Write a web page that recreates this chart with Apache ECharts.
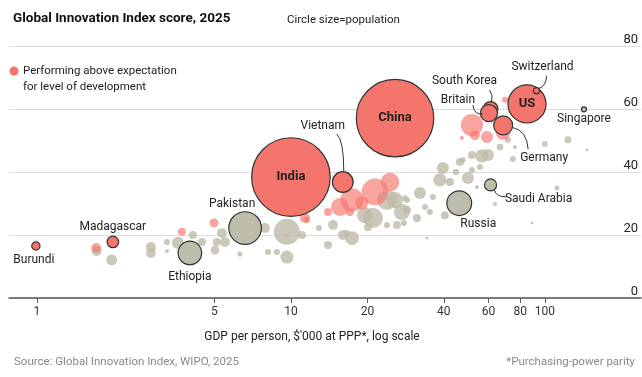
<!DOCTYPE html>
<html><head><meta charset="utf-8">
<script src="https://cdn.jsdelivr.net/npm/echarts@6/dist/echarts.min.js"></script>
<style>html,body{margin:0;padding:0;background:#fff}#c{width:642px;height:377px}</style>
</head><body><div id="c"></div>
<script>
// ---- Data: [GDP per person $'000 PPP, GII score, population (m)] ----
const labeledNames = ['Burundi','Madagascar','India','Vietnam','China','US','Switzerland','South Korea','Britain','Germany'];
const labeledRed = [
  [0.99,16.5,16],[1.99,17.8,31],[10.0,38.4,1450],[16.0,36.8,101],[25.7,57.1,1410],
  [85.0,61.6,340],[92.7,65.8,9],[61.1,60.0,51],[60.2,58.7,69],[68.5,54.8,84]
];
const labeledGrayNames = ['Ethiopia','Pakistan','Russia','Saudi Arabia','Singapore'];
const labeledGray = [[4.0,14.3,130],[6.6,22.2,250],[46.0,30.1,144],[61.1,35.9,34],[142.5,59.9,6]];
const aboveExpectation = [
  [1.71,15.9,23],[3.72,21.0,15],[4.98,23.8,19],[11.35,25.4,23],[13.99,27.3,15],
  [15.6,28.9,76],[17.39,31.1,129],[19.03,30.2,40],[21.41,33.7,166],[24.53,36.8,81],
  [17.07,27.3,15],[11.56,24.8,8.5],[51.61,54.9,115],[59.14,51.1,34],[53.0,51.7,23],
  [68.36,52.4,46],[47.13,50.8,4],[69.66,62.9,8.5]
];
const others = [
  [1.72,14.9,23],[1.97,12.1,28],[2.81,16.2,23],[2.81,14.3,23],[3.25,17.8,8.5],[3.25,14.9,4],
  [3.59,17.5,34],[4.11,20.0,15],[4.46,17.8,15],[5.02,15.2,19],[5.11,17.8,15],[5.35,20.6,23],
  [5.50,17.8,23],[6.30,14.0,6],[7.90,22.2,23],[9.64,21.0,159],[11.05,20.0,15],[9.64,20.0,4],
  [12.89,22.2,8.5],[13.99,16.8,15],[8.12,14.6,8.5],[8.81,14.6,8.5],[9.64,13.0,40],[14.64,23.2,23],
  [16.02,20.0,23],[17.39,19.0,46],[16.61,20.6,8.5],[19.56,26.3,60],[21.03,25.4,94],[23.88,31.1,94],
  [25.67,31.1,60],[27.35,27.3,60],[28.11,31.7,8.5],[23.88,23.2,8.5],[26.14,23.2,15],[27.86,23.8,8.5],
  [20.11,22.5,15],[31.33,25.4,15],[28.64,27.9,15],[28.64,31.1,8.5],[32.21,33.3,34],[33.71,28.9,8.5],
  [36.24,32.1,8.5],[35.26,27.3,8.5],[40.37,26.3,15],[39.66,41.3,34],[38.61,37.5,42],[42.27,36.8,15],
  [44.63,40.0,10],[47.55,43.8,7],[49.77,38.1,34],[51.61,45.4,15],[51.61,40.6,8.5],[55.47,41.6,8.5],
  [56.49,45.1,42],[54.0,35.2,4],[46.28,43.2,15],[63.57,29.8,4],[66.53,47.9,10],[71.47,50.2,8.5],
  [76.21,47.9,4],[74.82,44.1,8.5],[100,48.9,8.5],[123.2,50.2,11.5],[146.3,47.0,2],[111.5,34.9,6],
  [88.91,23.8,2],[34.30,19.0,2],[59.7,45.4,34]
];
const xTickValues = [1,5,10,20,40,60,80,100];
const xRange = [0.776, 239];
const yTicks = [0,20,40,60,80];

// ---- label layout (offsets of label centre from circle centre, px) ----
const labelOffsets = {
  'Burundi':[-2,14],'Madagascar':[0,-15],'India':[0,0],'Vietnam':[-20,-56],'China':[0,0],'US':[0,0],
  'Switzerland':[6,-24],'South Korea':[-26,-28],'Britain':[-31,-13],'Germany':[41,33],
  'Ethiopia':[0,24],'Pakistan':[-13,-24],'Russia':[19,21],'Saudi Arabia':[48,14],'Singapore':[0,10]
};
// leader lines: [start, control, end] offsets from circle centre, px
const leaders = {
  'Vietnam':[[-6,-48],[1,-42],[1,-11]],
  'Switzerland':[[10,-15],[10,-5],[2,-2]],
  'South Korea':[[-1,-19],[3,-14],[1,-7]],
  'Britain':[[-16,-8],[-15,2],[-6,1]],
  'Germany':[[9,2],[24,5],[25,24]],
  'Saudi Arabia':[[4,5],[5,12],[16,12]]
};
const boldInside = {'India':1,'China':1,'US':1};

const RED = '#F4756C';
const FONT = 'Roboto, "Noto Sans", sans-serif';
const size = v => 2.063 * Math.sqrt(v[2]);
const tx = arr => arr.map(d => [Math.log10(d[0]), d[1], d[2]]);

function labeledData(names, arr){
  return tx(arr).map((v,i) => ({
    name: names[i], value: v,
    label: boldInside[names[i]] ? {fontWeight:'bold', fontSize:13} : {}
  }));
}
function layoutFor(names){
  return p => { const o = labelOffsets[names[p.dataIndex]] || [0,0]; return {dx:o[0], dy:o[1]}; };
}

const chart = echarts.init(document.getElementById('c'), null, {renderer:'canvas'});
chart.setOption({
  animation:false,
  textStyle:{fontFamily:FONT},
  title:[
    {text:'Global Innovation Index score, 2025', left:8, top:7, textStyle:{fontSize:13.5, fontWeight:'bold', color:'#111', fontFamily:FONT}},
    {text:'Circle size=population', left:282, top:9, textStyle:{fontSize:11.5, fontWeight:'normal', color:'#222', fontFamily:FONT}},
    {text:'Source: Global Innovation Index, WIPO, 2025', left:9, top:351, textStyle:{fontSize:11.5, fontWeight:'normal', color:'#888', fontFamily:FONT}},
    {text:'*Purchasing-power parity', right:2, top:351, textStyle:{fontSize:11.5, fontWeight:'normal', color:'#888', fontFamily:FONT}}
  ],
  grid:{left:9, right:1, top:46, bottom:79},
  xAxis:{
    type:'value', min:Math.log10(xRange[0]), max:Math.log10(xRange[1]),
    axisLine:{show:true, lineStyle:{color:'#555', width:1.5}},
    axisTick:{show:true, length:5, customValues:xTickValues.map(Math.log10), lineStyle:{color:'#555'}},
    axisLabel:{customValues:xTickValues.map(Math.log10), formatter:v=>String(Math.round(Math.pow(10,v))), fontSize:12, color:'#333', margin:8},
    splitLine:{show:false},
    name:"GDP per person, $'000 at PPP*, log scale", nameLocation:'middle', nameGap:33,
    nameTextStyle:{fontSize:12, color:'#222', fontFamily:FONT, padding:[0,26,0,0]}
  },
  yAxis:{
    type:'value', min:yTicks[0], max:yTicks[yTicks.length-1], interval:20, position:'right',
    axisLine:{show:false}, axisTick:{show:false},
    axisLabel:{inside:true, verticalAlign:'bottom', margin:3, fontSize:13, color:'#222'},
    splitLine:{show:true, lineStyle:{color:'#dcdcdc', width:1}}
  },
  series:[
    {type:'scatter', name:'others', data:tx(others), symbolSize:size, z:1,
     itemStyle:{color:'rgba(190,186,168,0.8)', opacity:1}},
    {type:'scatter', name:'above', data:tx(aboveExpectation), symbolSize:size, z:2,
     itemStyle:{color:'rgba(244,117,108,0.65)', opacity:1}},
    {type:'scatter', name:'labeledGray', data:labeledData(labeledGrayNames, labeledGray), symbolSize:size, z:3,
     itemStyle:{color:'#BEBCAB', borderColor:'#333', borderWidth:1.2, opacity:1},
     label:{show:true, position:'inside', formatter:'{b}', fontSize:12, color:'#222', fontFamily:FONT},
     labelLayout:layoutFor(labeledGrayNames)},
    {type:'scatter', name:'labeledRed', data:labeledData(labeledNames, labeledRed), symbolSize:size, z:4,
     itemStyle:{color:RED, borderColor:'#333', borderWidth:1.2, opacity:1},
     label:{show:true, position:'inside', formatter:'{b}', fontSize:12, color:'#222', fontFamily:FONT},
     labelLayout:layoutFor(labeledNames)}
  ]
});

// legend + leader lines (positions derived from the chart's own scales)
const graphics = [
  {type:'circle', shape:{cx:14, cy:71, r:4.5}, style:{fill:RED}},
  {type:'text', left:23, top:63, style:{text:'Performing above expectation\nfor level of development', fontSize:11.5, lineHeight:16, fill:'#222', fontFamily:FONT}}
];
function addLeaders(names, arr, seriesIndex){
  tx(arr).forEach((v,i) => {
    const L = leaders[names[i]]; if (!L) return;
    const c = chart.convertToPixel({seriesIndex}, [v[0], v[1]]);
    graphics.push({type:'bezierCurve', z:10, silent:true,
      shape:{x1:c[0]+L[0][0], y1:c[1]+L[0][1], cpx1:c[0]+L[1][0], cpy1:c[1]+L[1][1], x2:c[0]+L[2][0], y2:c[1]+L[2][1]},
      style:{stroke:'#333', lineWidth:1, fill:null}});
  });
}
addLeaders(labeledNames, labeledRed, 3);
addLeaders(labeledGrayNames, labeledGray, 2);
chart.setOption({graphic:graphics});
</script></body></html>
